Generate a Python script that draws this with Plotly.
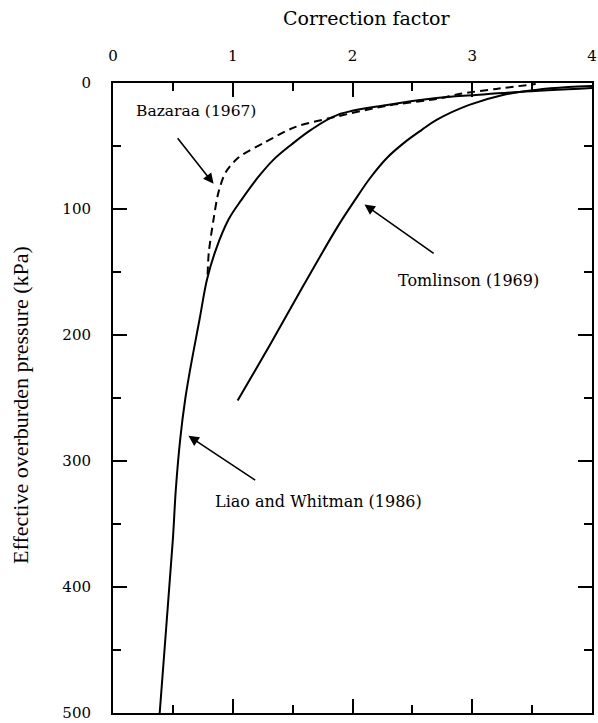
import plotly.graph_objects as go

# Data (correction factor vs effective overburden pressure, kPa)
liao_x = [0.39, 0.45, 0.50, 0.525, 0.562, 0.603, 0.645, 0.723, 0.785, 0.86, 0.967, 1.074, 1.215,
          1.339, 1.488, 1.653, 1.876, 2.29, 2.70, 3.03, 3.39, 4.0]
liao_y = [500, 425, 362, 322, 282, 251, 227, 187.5, 156, 132, 108, 92.6, 74.4,
          61, 49, 37.2, 25.3, 17.4, 11.9, 9.5, 7.1, 4]

bazaraa_x = [0.79, 0.80, 0.84, 0.88, 0.94, 1.05, 1.27, 1.52, 1.85, 2.29, 2.70, 2.89, 3.20, 3.53]
bazaraa_y = [152, 134.5, 108, 87, 71, 59, 47, 35, 27, 18, 12.7, 8.7, 4.7, 0.8]

tomlinson_x = [1.041, 1.322, 1.595, 1.876, 2.017, 2.149, 2.289, 2.43, 2.579, 2.702, 2.975, 3.256,
               3.529, 3.802, 4.0]
tomlinson_y = [252, 206, 160, 114, 93.4, 75.2, 59.3, 47.5, 37.2, 29.3, 17.4, 9.5,
               5.5, 3.2, 2.4]

x_ticks = [0, 1, 2, 3, 4]
y_ticks = [0, 100, 200, 300, 400, 500]

SERIF = "DejaVu Serif"
TIMES = "Liberation Serif"

fig = go.Figure()
fig.add_trace(go.Scatter(x=liao_x, y=liao_y, mode="lines",
                         line=dict(color="black", width=2, shape="spline", smoothing=1.0),
                         name="Liao and Whitman (1986)"))
fig.add_trace(go.Scatter(x=bazaraa_x, y=bazaraa_y, mode="lines",
                         line=dict(color="black", width=2, dash="8px,5px", shape="spline", smoothing=0.8),
                         name="Bazaraa (1967)"))
fig.add_trace(go.Scatter(x=tomlinson_x, y=tomlinson_y, mode="lines",
                         line=dict(color="black", width=2, shape="spline", smoothing=1.0),
                         name="Tomlinson (1969)"))

# Text labels
labels = [
    ("Bazaraa (1967)", 0.69, 22, 15.5),
    ("Tomlinson (1969)", 2.97, 157, 16),
    ("Liao and Whitman (1986)", 1.72, 332, 16),
]
for txt, lx, ly, fs in labels:
    fig.add_annotation(x=lx, y=ly, xref="x", yref="y", text=txt, showarrow=False,
                       font=dict(family=SERIF, size=fs, color="black"))

# Arrows (tip, tail) in data coordinates
arrows = [
    (0.84, 80, 0.53, 42.7),
    (2.10, 96.5, 2.69, 136),
    (0.63, 280, 1.20, 316),
]
for tx, ty, sx, sy in arrows:
    fig.add_annotation(x=tx, y=ty, ax=sx, ay=sy, xref="x", yref="y", axref="x", ayref="y",
                       text="", showarrow=True, arrowhead=2, arrowsize=1.3, arrowwidth=1.6,
                       arrowcolor="black")

# Titles
fig.add_annotation(x=0.53, y=1.103, xref="paper", yref="paper", text="Correction factor",
                   showarrow=False, font=dict(family=SERIF, size=19, color="black"),
                   xanchor="center", yanchor="middle")
fig.add_annotation(x=-0.192, y=0.489, xref="paper", yref="paper",
                   text="Effective overburden pressure (kPa)", textangle=-90,
                   showarrow=False, font=dict(family=TIMES, size=22, color="black"),
                   xanchor="center", yanchor="middle")

fig.update_xaxes(side="top", range=[0, 4], tickvals=x_ticks, ticktext=[str(v) for v in x_ticks],
                 ticks="inside", ticklen=14, tickwidth=2, tickcolor="black",
                 minor=dict(dtick=0.5, ticks="inside", ticklen=8, tickwidth=2, tickcolor="black"),
                 showline=True, linecolor="black", linewidth=2, mirror="allticks",
                 showgrid=False, zeroline=False, ticklabelstandoff=14,
                 ticklabeloverflow="allow",
                 tickfont=dict(family=SERIF, size=15, color="black"))
fig.update_yaxes(range=[500, 0], tickvals=y_ticks, ticktext=[str(v) for v in y_ticks],
                 ticks="inside", ticklen=14, tickwidth=2, tickcolor="black",
                 minor=dict(dtick=50, ticks="inside", ticklen=8, tickwidth=2, tickcolor="black"),
                 showline=True, linecolor="black", linewidth=2, mirror="allticks",
                 showgrid=False, zeroline=False, ticklabelstandoff=17,
                 ticklabeloverflow="allow",
                 tickfont=dict(family=SERIF, size=15, color="black"))

fig.update_layout(width=598, height=723, margin=dict(l=113, r=1, t=83, b=8),
                  paper_bgcolor="white", plot_bgcolor="white", showlegend=False)

fig.write_html("out.html")
